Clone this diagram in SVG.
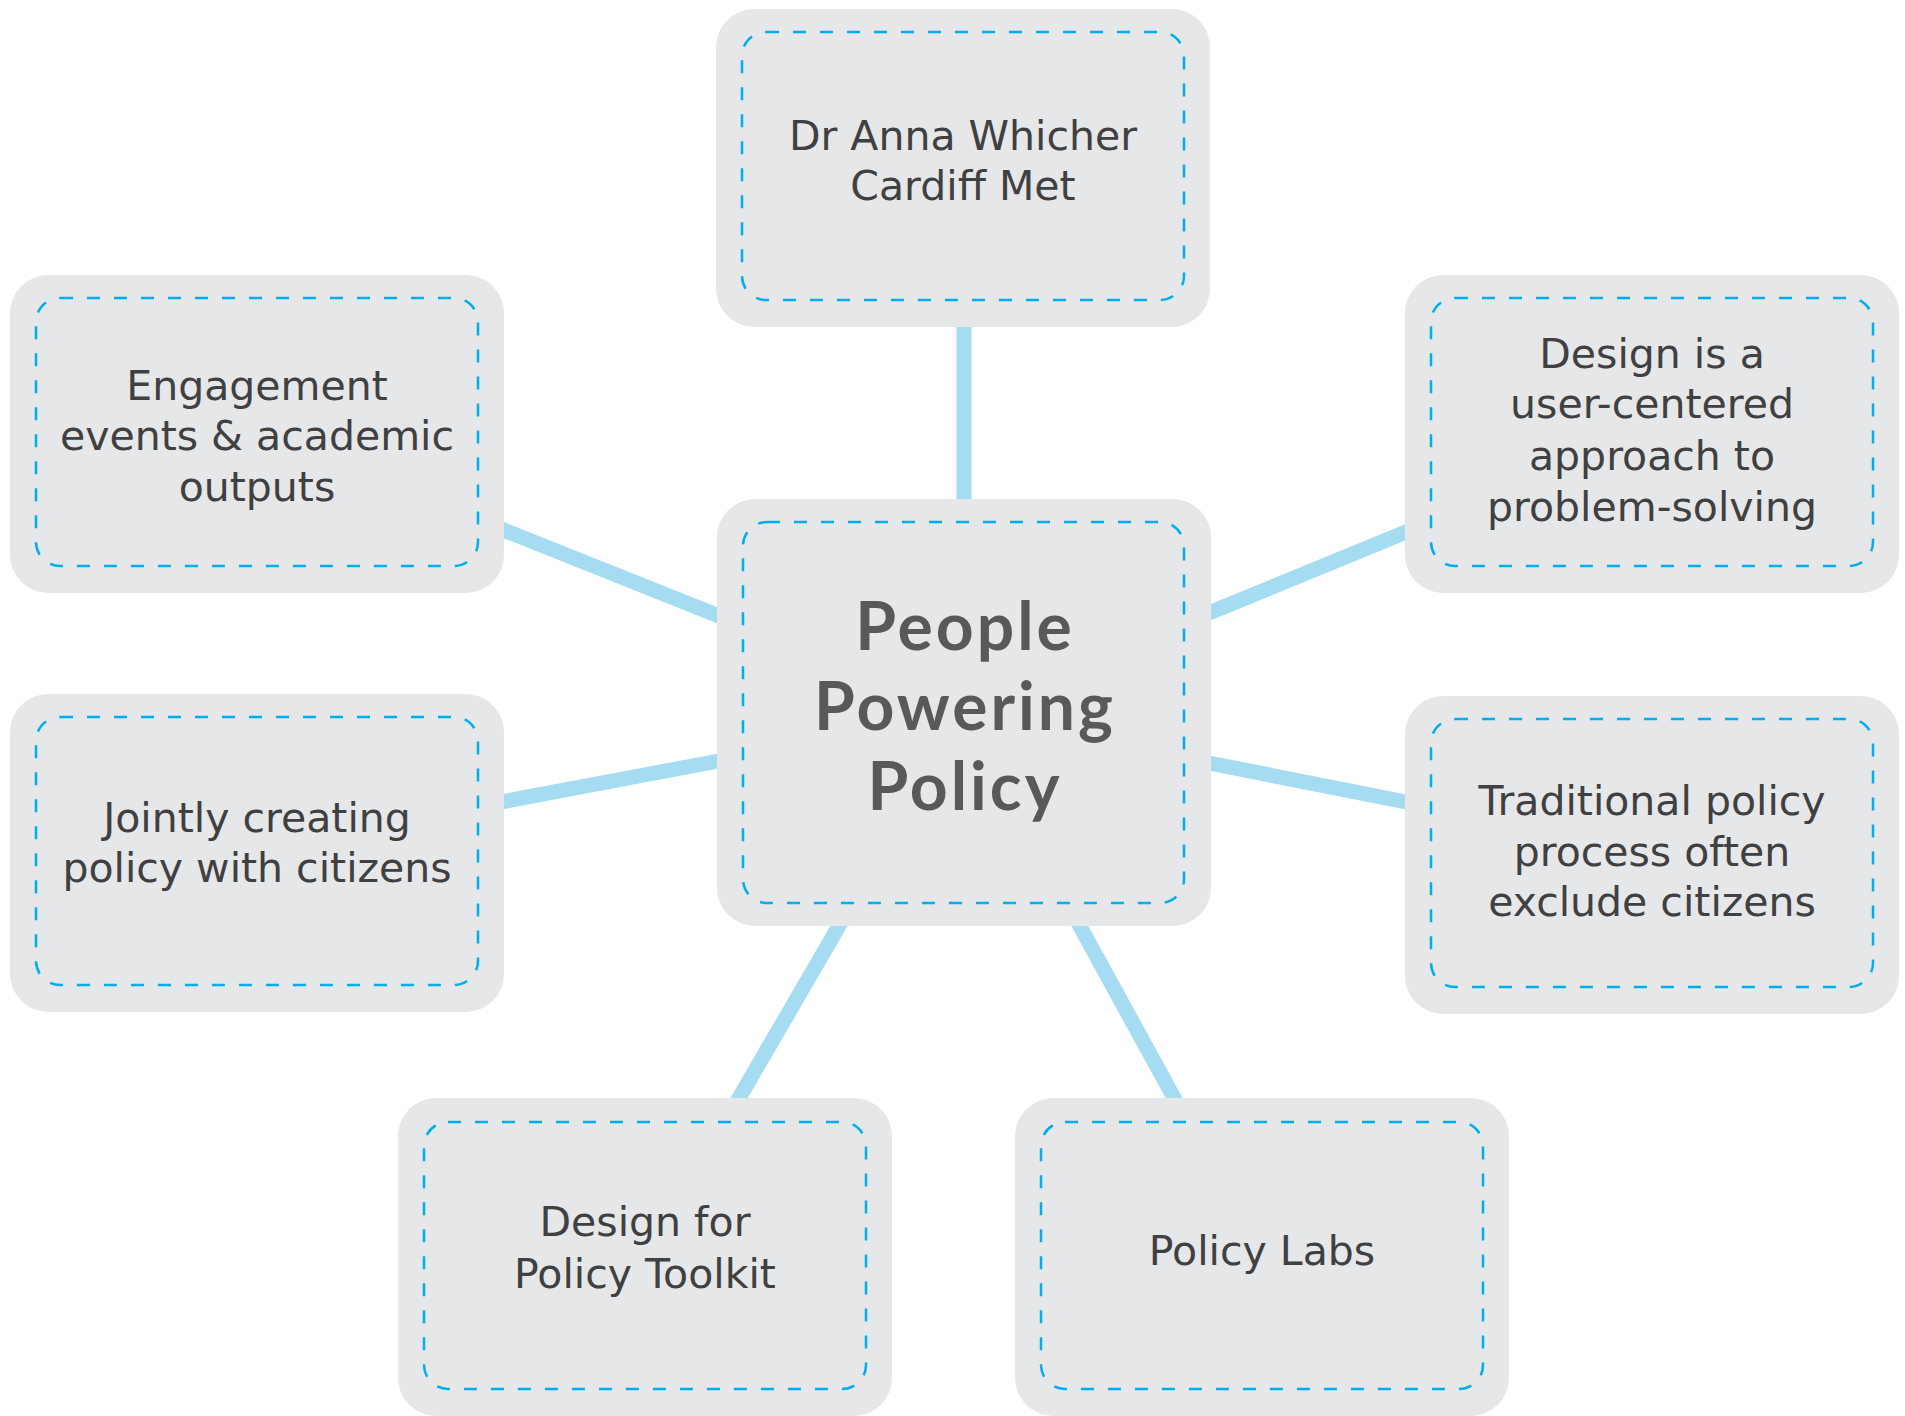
<svg xmlns="http://www.w3.org/2000/svg" width="1905" height="1416" viewBox="0 0 1905 1416">
<style>
.outer{fill:#e6e7e9}
.inner{fill:none;stroke:#00aeef;stroke-width:2.5;stroke-dasharray:13 14}
.lbl{font-family:"DejaVu Sans","Liberation Sans",sans-serif;font-size:41px;fill:#404041;text-anchor:middle}
.title{font-family:Lato,"Liberation Sans",sans-serif;font-size:66px;font-weight:bold;letter-spacing:3px;fill:#58595b;text-anchor:middle}
.conn{stroke:#a6dcf2;stroke-width:15;fill:none}
</style>
<rect width="1905" height="1416" fill="#ffffff"/>
<g id="connectors">
<line class="conn" x1="964" y1="320" x2="964" y2="505"/>
<line class="conn" x1="496" y1="527" x2="724" y2="618"/>
<line class="conn" x1="496" y1="803" x2="724" y2="760"/>
<line class="conn" x1="1204" y1="615" x2="1411" y2="530"/>
<line class="conn" x1="1204" y1="762" x2="1411" y2="803"/>
<line class="conn" x1="843" y1="919" x2="735" y2="1105"/>
<line class="conn" x1="1076" y1="919" x2="1178" y2="1105"/>
</g>
<g id="center">
<rect class="outer" x="717" y="499" width="494" height="427" rx="38"/>
<rect class="inner" x="743" y="522" width="441" height="381" rx="24"/>
<text class="title" x="965" y="650">People</text>
<text class="title" x="965" y="730">Powering</text>
<text class="title" x="965" y="810">Policy</text>
</g>
<g id="node-top">
<rect class="outer" x="716" y="9" width="494" height="318" rx="38"/>
<rect class="inner" x="742" y="32" width="442" height="268" rx="24"/>
<text class="lbl" x="963" y="150">Dr Anna Whicher</text>
<text class="lbl" x="963" y="200">Cardiff Met</text>
</g>
<g id="node-left-top">
<rect class="outer" x="10" y="275" width="494" height="318" rx="38"/>
<rect class="inner" x="36" y="298" width="442" height="268" rx="24"/>
<text class="lbl" x="257" y="400">Engagement</text>
<text class="lbl" x="257" y="450">events &amp; academic</text>
<text class="lbl" x="257" y="501">outputs</text>
</g>
<g id="node-right-top">
<rect class="outer" x="1405" y="275" width="494" height="318" rx="38"/>
<rect class="inner" x="1431" y="298" width="442" height="268" rx="24"/>
<text class="lbl" x="1652" y="368">Design is a</text>
<text class="lbl" x="1652" y="418">user-centered</text>
<text class="lbl" x="1652" y="470">approach to</text>
<text class="lbl" x="1652" y="521">problem-solving</text>
</g>
<g id="node-left-mid">
<rect class="outer" x="10" y="694" width="494" height="318" rx="38"/>
<rect class="inner" x="36" y="717" width="442" height="268" rx="24"/>
<text class="lbl" x="257" y="832">Jointly creating</text>
<text class="lbl" x="257" y="882">policy with citizens</text>
</g>
<g id="node-right-mid">
<rect class="outer" x="1405" y="696" width="494" height="318" rx="38"/>
<rect class="inner" x="1431" y="719" width="442" height="268" rx="24"/>
<text class="lbl" x="1652" y="815">Traditional policy</text>
<text class="lbl" x="1652" y="866">process often</text>
<text class="lbl" x="1652" y="916">exclude citizens</text>
</g>
<g id="node-bottom-left">
<rect class="outer" x="398" y="1098" width="494" height="318" rx="38"/>
<rect class="inner" x="424" y="1122" width="442" height="267" rx="24"/>
<text class="lbl" x="645" y="1236">Design for</text>
<text class="lbl" x="645" y="1288">Policy Toolkit</text>
</g>
<g id="node-bottom-right">
<rect class="outer" x="1015" y="1098" width="494" height="318" rx="38"/>
<rect class="inner" x="1041" y="1122" width="442" height="267" rx="24"/>
<text class="lbl" x="1262" y="1265">Policy Labs</text>
</g>
</svg>
